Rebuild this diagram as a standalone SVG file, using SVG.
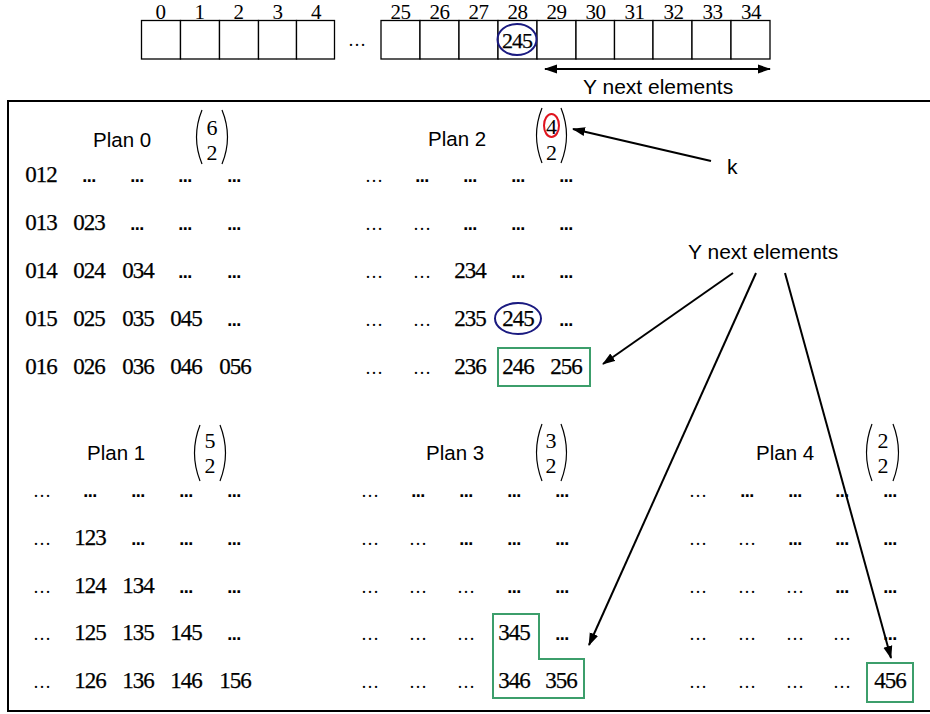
<svg xmlns="http://www.w3.org/2000/svg" width="930" height="714" viewBox="0 0 930 714">
<style>
.cell{fill:#fff;stroke:#000;stroke-width:1.3}
.idx{font-family:"Liberation Serif","DejaVu Serif",serif;font-size:21px;text-anchor:middle;letter-spacing:-0.5px}
.n{font-family:"Liberation Serif","DejaVu Serif",serif;font-size:23px;text-anchor:middle;letter-spacing:-1px;stroke:#000;stroke-width:0.25}
.c{font-family:"Liberation Sans","DejaVu Sans",sans-serif;font-size:18px;font-weight:bold;text-anchor:middle;letter-spacing:-0.5px}
.w{font-family:"Liberation Serif","DejaVu Serif",serif;font-size:18px;text-anchor:middle}
.lbl{font-family:"Liberation Sans","DejaVu Sans",sans-serif;font-size:20.5px}
.bd{font-family:"Liberation Serif","DejaVu Serif",serif;font-size:22px;text-anchor:middle}
.par{fill:none;stroke:#000;stroke-width:1.2}
.grn{fill:none;stroke:#3c9e6b;stroke-width:2}
.blu{fill:none;stroke:#1a1a80;stroke-width:2}
.con{fill:none;stroke:#000;stroke-width:2}
</style>
<defs>
<marker id="ah" markerUnits="userSpaceOnUse" markerWidth="13" markerHeight="10" refX="12" refY="5" orient="auto-start-reverse">
<path d="M0,0.5 L13,5 L0,9.5 z" fill="#000"/>
</marker>
</defs>

<g id="array">
<g class="idx">
<text x="160.5" y="19">0</text><text x="199.5" y="19">1</text><text x="238.5" y="19">2</text><text x="277.5" y="19">3</text><text x="316" y="19">4</text>
<text x="400.5" y="19">25</text><text x="439.5" y="19">26</text><text x="478.5" y="19">27</text><text x="517.5" y="19">28</text><text x="556.5" y="19">29</text><text x="595.5" y="19">30</text><text x="634.5" y="19">31</text><text x="673.5" y="19">32</text><text x="712.5" y="19">33</text><text x="751" y="19">34</text>
</g>
<rect class="cell" x="141.5" y="20.5" width="39" height="38.5"/>
<rect class="cell" x="180.5" y="20.5" width="39" height="38.5"/>
<rect class="cell" x="219.5" y="20.5" width="39" height="38.5"/>
<rect class="cell" x="258.5" y="20.5" width="38" height="38.5"/>
<rect class="cell" x="296.5" y="20.5" width="38" height="38.5"/>
<text class="w" x="357" y="46">…</text>
<rect class="cell" x="381" y="20.5" width="39" height="38.5"/>
<rect class="cell" x="420" y="20.5" width="39" height="38.5"/>
<rect class="cell" x="459" y="20.5" width="39" height="38.5"/>
<rect class="cell" x="498" y="20.5" width="39" height="38.5"/>
<rect class="cell" x="537" y="20.5" width="39" height="38.5"/>
<rect class="cell" x="576" y="20.5" width="38.5" height="38.5"/>
<rect class="cell" x="614.5" y="20.5" width="38.5" height="38.5"/>
<rect class="cell" x="653" y="20.5" width="39" height="38.5"/>
<rect class="cell" x="692" y="20.5" width="39" height="38.5"/>
<rect class="cell" x="731" y="20.5" width="39" height="38.5"/>
<text class="n" x="517" y="48" style="font-size:22px">245</text>
<ellipse class="blu" cx="517" cy="39.5" rx="19.5" ry="15.5"/>
</g>

<g id="top-label">
<text class="lbl" x="583" y="94" style="font-size:21px">Y next elements</text>
</g>

<g id="frame">
<rect x="8" y="101" width="940" height="610" fill="none" stroke="#000" stroke-width="2"/>
</g>

<g id="plan0">
<text class="lbl" x="93" y="147">Plan 0</text>
<path class="par" d="M202,110 Q191,137 202,164"/><path class="par" d="M222,110 Q233,137 222,164"/>
<text class="bd" x="212" y="135">6</text><text class="bd" x="212" y="160">2</text>
<text class="n" x="41" y="182">012</text><text class="c" x="89" y="182">...</text><text class="c" x="137" y="182">...</text><text class="c" x="185" y="182">...</text><text class="c" x="234" y="182">...</text>
<text class="n" x="41" y="230">013</text><text class="n" x="89" y="230">023</text><text class="c" x="137" y="230">...</text><text class="c" x="185" y="230">...</text><text class="c" x="234" y="230">...</text>
<text class="n" x="41" y="278">014</text><text class="n" x="89" y="278">024</text><text class="n" x="138" y="278">034</text><text class="c" x="185" y="278">...</text><text class="c" x="234" y="278">...</text>
<text class="n" x="41" y="326">015</text><text class="n" x="89" y="326">025</text><text class="n" x="138" y="326">035</text><text class="n" x="186" y="326">045</text><text class="c" x="234" y="326">...</text>
<text class="n" x="41" y="374">016</text><text class="n" x="89" y="374">026</text><text class="n" x="138" y="374">036</text><text class="n" x="186" y="374">046</text><text class="n" x="235" y="374">056</text>
</g>

<g id="plan2">
<text class="lbl" x="428" y="146">Plan 2</text>
<path class="par" d="M542,108 Q531,135.5 542,163"/><path class="par" d="M561,108 Q572,135.5 561,163"/>
<text class="bd" x="551.5" y="134">4</text><text class="bd" x="551.5" y="160">2</text>
<ellipse cx="551.5" cy="125.5" rx="7.5" ry="11.5" fill="none" stroke="#e0141e" stroke-width="2"/>
<text class="w" x="374" y="182">…</text><text class="c" x="422" y="182">...</text><text class="c" x="470" y="182">...</text><text class="c" x="518" y="182">...</text><text class="c" x="566" y="182">...</text>
<text class="w" x="374" y="230">…</text><text class="w" x="422" y="230">…</text><text class="c" x="470" y="230">...</text><text class="c" x="518" y="230">...</text><text class="c" x="566" y="230">...</text>
<text class="w" x="374" y="278">…</text><text class="w" x="422" y="278">…</text><text class="n" x="470" y="278">234</text><text class="c" x="518" y="278">...</text><text class="c" x="566" y="278">...</text>
<text class="w" x="374" y="326">…</text><text class="w" x="422" y="326">…</text><text class="n" x="470" y="326">235</text><text class="n" x="518" y="326">245</text><text class="c" x="566" y="326">...</text>
<text class="w" x="374" y="374">…</text><text class="w" x="422" y="374">…</text><text class="n" x="470" y="374">236</text><text class="n" x="518" y="374">246</text><text class="n" x="566" y="374">256</text>
<ellipse class="blu" cx="518" cy="318.5" rx="23" ry="15.5"/>
<rect class="grn" x="498" y="348" width="92" height="38"/>
</g>

<g id="plan1">
<text class="lbl" x="87" y="460">Plan 1</text>
<path class="par" d="M200,425 Q189,453 200,481"/><path class="par" d="M220,425 Q231,453 220,481"/>
<text class="bd" x="210" y="448">5</text><text class="bd" x="210" y="473">2</text>
<text class="w" x="42" y="497">…</text><text class="c" x="90" y="497">...</text><text class="c" x="138" y="497">...</text><text class="c" x="186" y="497">...</text><text class="c" x="234" y="497">...</text>
<text class="w" x="42" y="545">…</text><text class="n" x="90" y="545">123</text><text class="c" x="138" y="545">...</text><text class="c" x="186" y="545">...</text><text class="c" x="234" y="545">...</text>
<text class="w" x="42" y="593">…</text><text class="n" x="90" y="593">124</text><text class="n" x="138" y="593">134</text><text class="c" x="186" y="593">...</text><text class="c" x="234" y="593">...</text>
<text class="w" x="42" y="640">…</text><text class="n" x="90" y="640">125</text><text class="n" x="138" y="640">135</text><text class="n" x="186" y="640">145</text><text class="c" x="234" y="640">...</text>
<text class="w" x="42" y="688">…</text><text class="n" x="90" y="688">126</text><text class="n" x="138" y="688">136</text><text class="n" x="186" y="688">146</text><text class="n" x="235" y="688">156</text>
</g>

<g id="plan3">
<text class="lbl" x="426" y="460">Plan 3</text>
<path class="par" d="M542,424 Q531,452.5 542,481"/><path class="par" d="M561,424 Q572,452.5 561,481"/>
<text class="bd" x="551" y="448">3</text><text class="bd" x="551" y="473">2</text>
<text class="w" x="370" y="497">…</text><text class="c" x="418" y="497">...</text><text class="c" x="466" y="497">...</text><text class="c" x="514" y="497">...</text><text class="c" x="562" y="497">...</text>
<text class="w" x="370" y="545">…</text><text class="w" x="418" y="545">…</text><text class="c" x="466" y="545">...</text><text class="c" x="514" y="545">...</text><text class="c" x="562" y="545">...</text>
<text class="w" x="370" y="593">…</text><text class="w" x="418" y="593">…</text><text class="w" x="466" y="593">…</text><text class="c" x="514" y="593">...</text><text class="c" x="562" y="593">...</text>
<text class="w" x="370" y="640">…</text><text class="w" x="418" y="640">…</text><text class="w" x="466" y="640">…</text><text class="n" x="514" y="640">345</text><text class="c" x="562" y="640">...</text>
<text class="w" x="370" y="688">…</text><text class="w" x="418" y="688">…</text><text class="w" x="466" y="688">…</text><text class="n" x="514" y="688">346</text><text class="n" x="561" y="688">356</text>
<polygon class="grn" points="493,614 539,614 539,659 584,659 584,698 493,698"/>
</g>

<g id="plan4">
<text class="lbl" x="756" y="460">Plan 4</text>
<path class="par" d="M872,424 Q861,452.5 872,481"/><path class="par" d="M893,424 Q904,452.5 893,481"/>
<text class="bd" x="883" y="448">2</text><text class="bd" x="883" y="473">2</text>
<text class="w" x="698" y="497">…</text><text class="c" x="747" y="497">...</text><text class="c" x="795" y="497">...</text><text class="c" x="842" y="497">...</text><text class="c" x="890" y="497">...</text>
<text class="w" x="698" y="545">…</text><text class="w" x="747" y="545">…</text><text class="c" x="795" y="545">...</text><text class="c" x="842" y="545">...</text><text class="c" x="890" y="545">...</text>
<text class="w" x="698" y="593">…</text><text class="w" x="747" y="593">…</text><text class="w" x="795" y="593">…</text><text class="c" x="842" y="593">...</text><text class="c" x="890" y="593">...</text>
<text class="w" x="698" y="640">…</text><text class="w" x="747" y="640">…</text><text class="w" x="795" y="640">…</text><text class="w" x="842" y="640">…</text><text class="c" x="890" y="640">...</text>
<text class="w" x="698" y="688">…</text><text class="w" x="747" y="688">…</text><text class="w" x="795" y="688">…</text><text class="w" x="842" y="688">…</text><text class="n" x="890" y="688">456</text>
<rect class="grn" x="867" y="663" width="46" height="39"/>
</g>

<g id="labels">
<text class="lbl" x="727" y="174" style="font-size:21px">k</text>
<text class="lbl" x="688" y="259" style="font-size:21px">Y next elements</text>
</g>

<g id="connectors">
<line class="con" x1="545" y1="69" x2="770" y2="69" marker-start="url(#ah)" marker-end="url(#ah)"/>
<line class="con" x1="711" y1="161" x2="573" y2="129" marker-end="url(#ah)"/>
<line class="con" x1="733" y1="273" x2="603" y2="364" marker-end="url(#ah)"/>
<line class="con" x1="756" y1="273" x2="589" y2="645" marker-end="url(#ah)"/>
<line class="con" x1="785" y1="273" x2="891" y2="658" marker-end="url(#ah)"/>
</g>
</svg>
